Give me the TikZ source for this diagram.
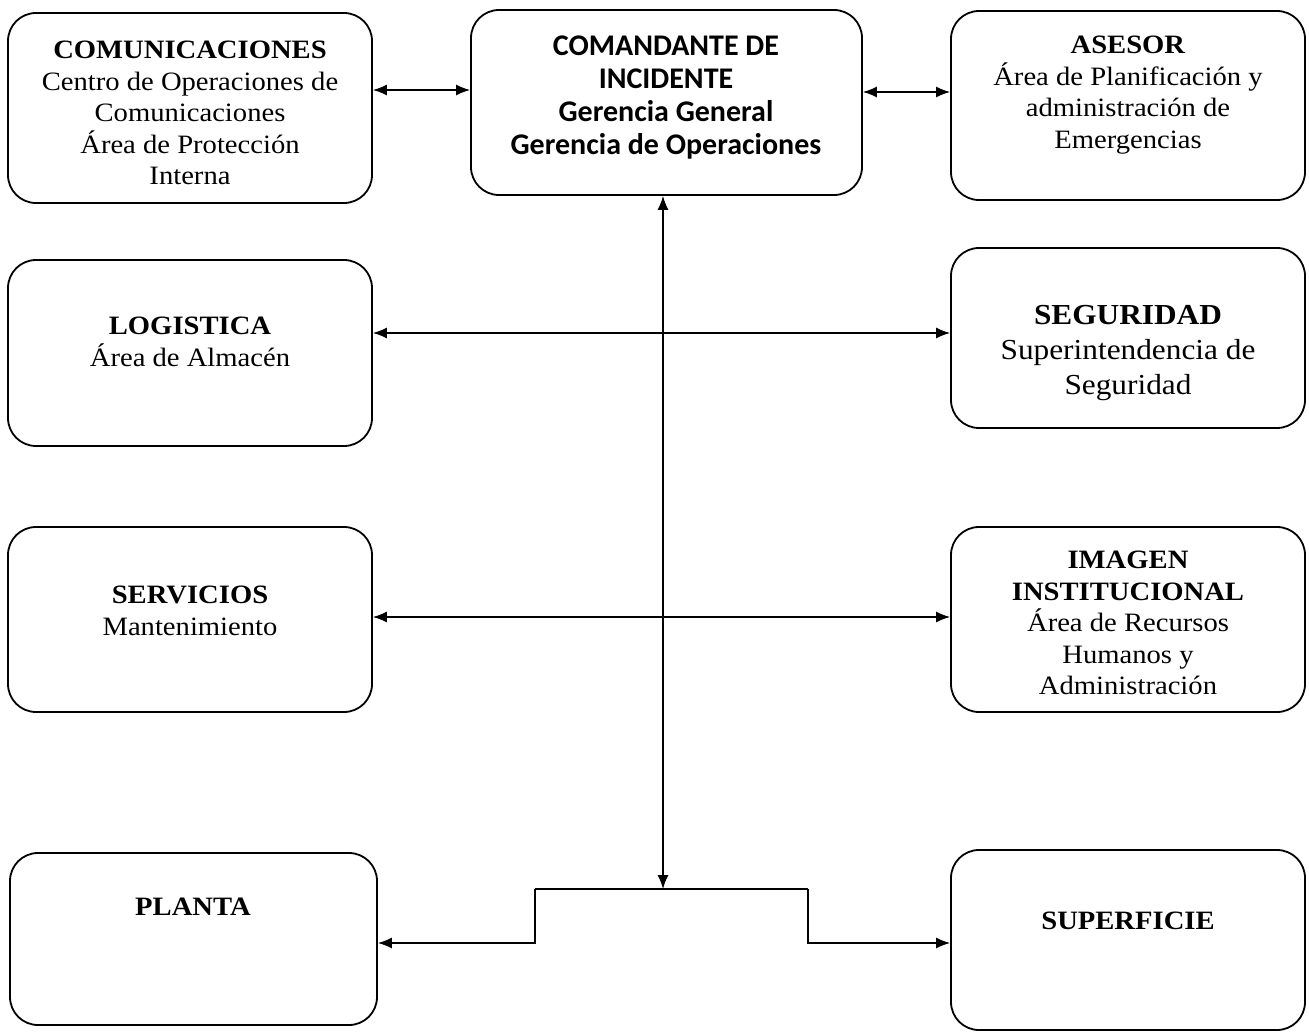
\documentclass[tikz,border=0pt]{standalone}
\usepackage{fontspec}
\setmainfont{Liberation Serif}[FakeStretch=1.08]
\newfontfamily\calfont{Carlito}
\usetikzlibrary{arrows.meta}
\begin{document}
\begin{tikzpicture}[x=1pt,y=-1pt,
  boxst/.style={draw, line width=1.8pt, rounded corners=28pt, minimum width=#1},
  txt/.style={align=center, inner sep=0pt, font=\fontsize{26.5}{31.5}\selectfont},
  arr/.style={line width=1.4pt, {Latex[length=14pt,width=11pt]}-{Latex[length=14pt,width=11pt]}},
  one/.style={line width=1.4pt, -{Latex[length=14pt,width=11pt]}},
  ln/.style={line width=1.4pt}]
\useasboundingbox (0,0) rectangle (1309,1032);
% boxes
\node[boxst=364pt, minimum height=190pt] (comu) at (190,108) {};
\node[boxst=391pt, minimum height=185pt] (coman) at (666.5,102.5) {};
\node[boxst=354pt, minimum height=189pt] (ases) at (1128,105.5) {};
\node[boxst=364pt, minimum height=186pt] (logi) at (190,353) {};
\node[boxst=354pt, minimum height=180pt] (segu) at (1128,338) {};
\node[boxst=364pt, minimum height=185pt] (serv) at (190,619.5) {};
\node[boxst=354pt, minimum height=185pt] (imag) at (1128,619.5) {};
\node[boxst=367pt, minimum height=172pt] (plan) at (193.5,939) {};
\node[boxst=354pt, minimum height=180pt] (supe) at (1128,940) {};
% texts
\node[txt] (tcomu) at (190,113) {\textbf{COMUNICACIONES}\\Centro de Operaciones de\\Comunicaciones\\Área de Protección\\Interna};
\node[txt, font=\calfont\bfseries\fontsize{30}{33}\selectfont] (tcoman) at (666,98) {COMANDANTE DE\\INCIDENTE\\Gerencia General\\Gerencia de Operaciones};
\node[txt] (tases) at (1128,95) {\textbf{ASESOR}\\Área de Planificación y\\administración de\\Emergencias};
\node[txt] (tlogi) at (190,342) {\textbf{LOGISTICA}\\Área de Almacén};
\node[txt, font=\fontsize{29}{35}\selectfont] (tsegu) at (1128,353) {\textbf{SEGURIDAD}\\Superintendencia de\\Seguridad};
\node[txt] (tserv) at (190,611) {\textbf{SERVICIOS}\\Mantenimiento};
\node[txt] (timag) at (1128,623) {\textbf{IMAGEN}\\\textbf{INSTITUCIONAL}\\Área de Recursos\\Humanos y\\Administración};
\node[txt] (tplan) at (193,907) {\textbf{PLANTA}};
\node[txt] (tsupe) at (1128,921) {\textbf{SUPERFICIE}};
% connectors
\coordinate (junc) at (663,889);
\coordinate (bl) at (535,889);
\coordinate (br) at (808,889);
\draw[arr] (comu.east |- 0,90) -- (coman.west |- 0,90);
\draw[arr] (coman.east |- 0,92) -- (ases.west |- 0,92);
\draw[arr] (coman.south -| junc) -- (junc);
\draw[arr] (logi.east |- 0,333) -- (segu.west |- 0,333);
\draw[arr] (serv.east |- 0,617) -- (imag.west |- 0,617);
\draw[ln] (bl) -- (br);
\draw[one] (bl) |- (plan.east |- 0,943);
\draw[one] (br) |- (supe.west |- 0,943);
\end{tikzpicture}
\end{document}
